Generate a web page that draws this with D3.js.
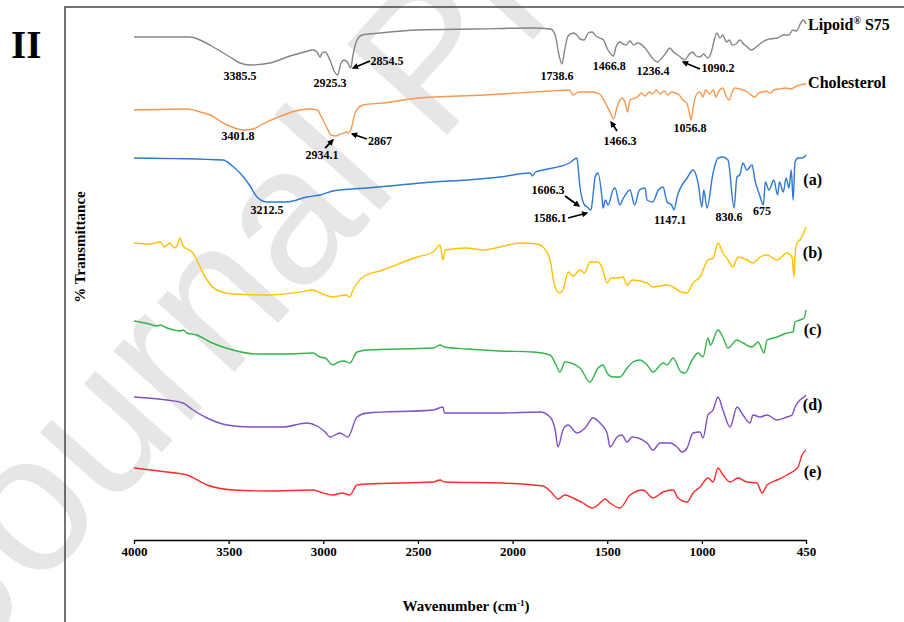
<!DOCTYPE html>
<html>
<head>
<meta charset="utf-8">
<script src="https://cdn.jsdelivr.net/npm/d3@7"></script>
<style>
  body { margin: 0; background: #fff; }
  svg { display: block; }
</style>
</head>
<body>
<svg class="ftirSVG" width="904" height="622"></svg>
<script>
// x axis ticks (wavenumber, cm-1)
const xTicks = [4000, 3500, 3000, 2500, 2000, 1500, 1000, 450];

// spectra: [wavenumber, stacked transmittance]
const lipoidS75 = [
  [4000,100.6],[3704,100.6],[3651,100],[3572,98.4],[3493,96.6],[3440,95.4],[3387,95],[3282,95.4],
  [3176,96.8],[3100,97.6],[3054,98],[3033,97.6],[3017,96.6],[3007,97.4],[2990,97.6],[2965,96],
  [2940,93.6],[2925,93],[2906,95.4],[2890,96],[2870,95.4],[2855,94.4],[2843,97],[2822,100],
  [2795,101],[2700,101.4],[2500,102],[2200,102.2],[1900,102.4],[1800,102.2],[1775,101],[1755,97],
  [1739,95.2],[1725,98],[1707,100.8],[1680,101.4],[1660,101],[1644,100.2],[1623,100],[1600,101.4],
  [1580,101.6],[1560,100.8],[1540,100.4],[1520,100],[1496,98],[1467,96.8],[1454,98.6],[1433,99.6],
  [1415,99.2],[1400,99],[1380,99.8],[1360,99],[1340,99.4],[1300,98.4],[1270,96.8],[1236,95.6],
  [1211,96.4],[1190,97.4],[1170,98.4],[1150,97.6],[1120,96.8],[1100,96.2],[1090,96],[1070,97],
  [1050,97.6],[1030,96.8],[1010,96.6],[990,97.2],[970,96.4],[950,97.6],[935,100],[920,101.4],
  [905,100.4],[890,101],[870,99.6],[855,100],[840,99],[820,99.2],[800,100],[780,99.2],
  [760,98.6],[740,98],[720,98.4],[700,99],[680,99.6],[660,100],[640,100.2],[600,100.4],
  [570,101],[540,101],[520,102],[500,101.8],[490,102.4],[475,103.6],[465,104],[450,103.2]
];

const cholesterol = [
  [4000,86],[3720,86.2],[3650,85.6],[3598,85],[3509,83],[3420,82],[3370,82.2],[3330,83],
  [3250,84.4],[3123,86],[3070,86.2],[3033,86],[3007,84.4],[2980,82.4],[2960,81],[2934,80.8],
  [2910,81.2],[2890,81.4],[2880,81.6],[2867,81.4],[2855,82],[2830,85.6],[2790,87],[2685,87.4],
  [2500,88.4],[2150,89],[1800,89.8],[1700,90],[1681,89],[1650,89.6],[1580,89.6],[1540,89.2],
  [1510,87.4],[1480,85.2],[1466,84.2],[1448,86.6],[1422,88.4],[1405,87.4],[1392,85.6],[1380,88],
  [1340,88.6],[1320,89.4],[1300,88.8],[1280,89.6],[1260,89.2],[1240,90],[1220,89.2],[1200,89.8],
  [1180,89],[1160,89.6],[1140,89.4],[1120,89],[1100,88],[1080,87.4],[1067,85.6],[1057,84],
  [1045,86.8],[1030,89],[1010,89.6],[995,88.6],[980,90],[960,89.2],[940,90],[925,88.6],
  [910,89.8],[890,90.4],[870,88.6],[855,88],[840,89.6],[825,90.4],[800,90.2],[780,90],
  [760,89.6],[740,89],[720,88.6],[700,89.4],[680,89.6],[660,89.8],[640,89.4],[620,90],
  [590,90.2],[560,90.4],[530,90.2],[500,90.8],[480,91],[460,91.2],[450,91.2]
];

const sampleA = [
  [4000,76.4],[3530,76],[3480,74.8],[3440,73.4],[3390,71],[3350,68.6],[3297,67.6],[3192,67.6],
  [3086,68.6],[3017,69],[2949,69.8],[2769,70.4],[2595,71],[2420,71.6],[2241,72],[2066,72.6],
  [1908,73.4],[1895,72.8],[1880,73.6],[1839,74],[1700,75.4],[1660,76.4],[1654,74.6],[1644,70.6],
  [1620,67],[1606,66.6],[1586,66],[1575,69],[1564,72.6],[1549,73.4],[1528,68.6],[1522,66.4],
  [1510,68],[1495,67],[1470,70],[1459,70.4],[1433,67],[1420,68],[1380,70],[1355,67],
  [1330,70],[1300,70.4],[1290,68],[1260,67.6],[1230,70],[1205,70.6],[1184,67.6],[1160,67],
  [1147,66],[1131,68.6],[1078,72.4],[1047,74],[1020,71.4],[1000,66.6],[990,70],[973,66.4],
  [941,73.4],[915,76.4],[890,76.6],[862,76],[830,66.4],[815,72.6],[800,73],[783,75.4],
  [762,74],[735,75],[720,72],[695,69],[675,67],[665,71.6],[645,70],[620,72],
  [600,69],[590,71.6],[570,69.6],[555,72.4],[540,70.4],[528,74],[518,68],[508,75.6],
  [490,76.4],[471,76.4],[450,77]
];

const sampleB = [
  [4000,59.4],[3915,59.2],[3860,59.6],[3840,58.6],[3810,59.4],[3790,58.4],[3773,58.8],[3757,60.4],
  [3741,58.8],[3720,58.2],[3688,57.4],[3651,54.6],[3614,52],[3562,50],[3477,49.2],[3297,49],
  [3123,49.6],[3054,50],[3017,49.4],[2949,48.6],[2920,48.8],[2880,49],[2860,48.6],[2843,50],
  [2790,52.6],[2685,54],[2505,56.6],[2420,57.6],[2383,59],[2368,56],[2355,58],[2241,58.4],
  [2156,58],[2066,58.6],[1961,59.4],[1871,59.2],[1839,58.6],[1802,56],[1776,50.6],[1750,49.4],
  [1730,50.4],[1707,53.6],[1680,52.8],[1644,54],[1620,53.4],[1591,55.6],[1554,55.6],[1528,54.6],
  [1501,51.4],[1480,52.4],[1448,52.4],[1417,52.6],[1395,51],[1369,52],[1290,51.4],[1258,50.6],
  [1184,51],[1152,50.6],[1110,49.6],[1078,49.4],[1047,51.4],[1010,52.6],[968,56],[940,56.4],
  [915,59.4],[889,57.4],[862,56],[836,54.6],[809,56.6],[762,56],[730,55.4],[693,56.6],
  [656,57],[603,56],[550,57.4],[524,56.6],[513,52.6],[508,57],[497,59.4],[482,60],
  [460,61.6],[450,62.6]
];

const sampleC = [
  [4000,43.8],[3920,43.2],[3880,42.8],[3860,43],[3826,42.4],[3790,42],[3757,41.8],[3740,42],
  [3720,41.4],[3667,41],[3598,39.6],[3477,38],[3350,37.2],[3192,37.2],[3054,37.4],[3017,36.6],
  [2990,36.4],[2949,35],[2920,35.6],[2890,35.8],[2860,35.4],[2822,37.6],[2769,38],[2420,38.4],
  [2383,39],[2360,38.6],[2241,38.2],[2066,37.8],[1892,37.6],[1802,37],[1770,35],[1750,33.6],
  [1723,35.6],[1644,34.4],[1591,31.6],[1549,34.4],[1522,35],[1501,33.4],[1469,32.6],[1433,32.6],
  [1395,34.4],[1364,35.6],[1327,36],[1290,35],[1258,33.6],[1205,35.4],[1184,35],[1152,36.4],
  [1110,33.6],[1089,33.4],[1052,36],[1020,37.4],[994,36.6],[968,40.4],[955,39],[915,42],
  [889,40.6],[862,38.4],[815,40],[783,39.4],[735,38.6],[703,39.6],[672,37.4],[656,40],
  [603,40.6],[550,41.4],[518,41.6],[508,43.6],[482,44],[460,44.4],[450,46]
];

const sampleD = [
  [4000,28.6],[3826,28],[3741,27.4],[3688,26],[3614,24.4],[3509,23],[3387,22.6],[3213,22.6],
  [3086,23.4],[3033,22.8],[2990,21.6],[2965,20.6],[2912,21.4],[2870,20.6],[2822,24.6],[2769,25.4],
  [2420,26],[2368,26.6],[2360,25.4],[2066,25.4],[1855,25.6],[1802,24.6],[1775,22],[1760,18.6],
  [1734,22],[1707,23],[1660,21.4],[1617,22.4],[1575,24.4],[1538,23.4],[1501,21.4],[1485,18.6],
  [1448,20.6],[1422,21],[1395,19.6],[1369,20.6],[1290,19.4],[1258,18],[1221,19.4],[1168,19.4],
  [1131,18.6],[1105,17.6],[1078,18.4],[1047,21.4],[1010,21.6],[994,20.4],[968,25],[941,26],
  [915,28.6],[889,26],[851,22.6],[814,26.6],[783,25],[746,23.4],[730,25],[693,24.6],
  [656,25],[603,24],[550,24.6],[524,25],[508,26.6],[482,28],[460,28.6],[450,29]
];

const sampleE = [
  [4000,14.4],[3826,13.6],[3720,13],[3614,11],[3477,10],[3297,9.8],[3054,10],[3017,9.6],
  [2949,9],[2900,9.4],[2860,9],[2822,11],[2769,11.2],[2420,11.6],[2383,12],[2360,11.6],
  [2066,11.4],[1839,10.8],[1792,9.4],[1760,8.2],[1723,9],[1681,8.4],[1628,7.4],[1580,6.4],
  [1538,7.4],[1512,8.2],[1485,7.4],[1433,6.4],[1380,9],[1311,10],[1258,8.4],[1205,9.6],
  [1152,10],[1126,8.4],[1078,7.6],[1047,9.4],[1010,10.6],[968,12.4],[941,11.6],[915,14.4],
  [889,13],[851,11.6],[809,12.4],[762,11.6],[709,11.4],[682,9.4],[656,11],[603,12],
  [550,13],[508,14],[492,14.6],[471,17],[450,18]
];

const spectra = [lipoidS75, cholesterol, sampleA, sampleB, sampleC, sampleD, sampleE];
const spectraColors = ['#858585', '#f7984e', '#2e78d6', '#ffc000', '#33b34a', '#7f4fc3', '#ff2a2a'];

// series names shown at the right end
const seriesLabels = [
  { text: 'Lipoid', sup: '®', rest: ' S75', wn: 439, t: 102 },
  { text: 'Cholesterol', wn: 439, t: 90.4 },
  { text: '(a)', wn: 415, t: 71, mid: true },
  { text: '(b)', wn: 415, t: 56.4, mid: true },
  { text: '(c)', wn: 415, t: 41, mid: true },
  { text: '(d)', wn: 415, t: 26, mid: true },
  { text: '(e)', wn: 415, t: 12.6, mid: true }
];

// peak annotations
const peakLabels = [
  { text: '3385.5', wn: 3440, t: 92 },
  { text: '2925.3', wn: 2965, t: 90.6 },
  { text: '2854.5', wn: 2663, t: 95 },
  { text: '1738.6', wn: 1765, t: 92 },
  { text: '1466.8', wn: 1490, t: 94 },
  { text: '1236.4', wn: 1258, t: 93 },
  { text: '1090.2', wn: 915, t: 93.6 },
  { text: '3401.8', wn: 3450, t: 80 },
  { text: '2867', wn: 2700, t: 79 },
  { text: '2934.1', wn: 3007, t: 76.2 },
  { text: '1466.3', wn: 1433, t: 79 },
  { text: '1056.8', wn: 1063, t: 81.6 },
  { text: '3212.5', wn: 3297, t: 65.2 },
  { text: '1606.3', wn: 1813, t: 69.2 },
  { text: '1586.1', wn: 1802, t: 63.6 },
  { text: '1147.1', wn: 1168, t: 63.2 },
  { text: '830.6', wn: 857, t: 63.8 },
  { text: '675', wn: 682, t: 65 }
];

// arrows: [from, to] in [wavenumber, transmittance]
const peakArrows = [
  [[2753,95.8],[2843,94.4]],
  [[1010,94.2],[1100,95.6]],
  [[2769,80.2],[2848,81.2]],
  [[2990,78.4],[2949,80]],
  [[1448,81.8],[1480,83.6]],
  [[1723,68.8],[1649,66.8]],
  [[1707,64.4],[1607,65.4]]
];

const svg = d3.select('svg.ftirSVG');
const serif = "'Liberation Serif', 'Times New Roman', serif";

const x = d3.scaleLinear().domain([4000, 450]).range([134, 806]);
const y = d3.scaleLinear().domain([0, 107]).range([540, 5]);

// watermark behind everything
svg.append('text')
  .attr('class', 'watermark')
  .attr('transform', 'translate(-30, 665) rotate(-48)')
  .text('Journal Pre-proof')
  .style('font-family', "'Liberation Sans', Arial, sans-serif")
  .style('font-size', '196px')
  .style('fill', '#e6e6e6');

// frame (left and top edges visible)
svg.append('path')
  .attr('d', 'M65,622V7H904')
  .style('fill', 'none')
  .style('stroke', '#444')
  .style('stroke-width', 1.5);

svg.append('text')
  .text('II')
  .attr('x', 11)
  .attr('y', 58)
  .style('font-family', serif)
  .style('font-weight', 700)
  .style('font-size', '39px');

const line = d3.line()
  .x(d => x(d[0]))
  .y(d => y(d[1]))
  .curve(d3.curveMonotoneX);

svg.append('g').attr('class', 'spectraGrp')
  .selectAll('path')
  .data(spectra)
  .enter()
  .append('path')
  .attr('d', d => line(d))
  .style('fill', 'none')
  .style('stroke', (d, i) => spectraColors[i])
  .style('stroke-width', 1.4)
  .style('stroke-linejoin', 'round');

// x axis
const xAxis = svg.append('g')
  .attr('class', 'xAxis')
  .attr('transform', 'translate(0, 540)')
  .call(d3.axisBottom(x).tickValues(xTicks).tickSize(4).tickSizeOuter(0).tickFormat(d3.format('d')));

xAxis.select('.domain').style('stroke', '#000').style('stroke-width', 1.6);
xAxis.selectAll('.tick line').style('stroke', '#000').style('stroke-width', 1.3);
xAxis.selectAll('.tick text')
  .style('font-family', serif)
  .style('font-weight', 700)
  .style('font-size', '13px')
  .style('fill', '#000');

const xTitle = svg.append('text')
  .attr('x', 466)
  .attr('y', 611)
  .style('text-anchor', 'middle')
  .style('font-family', serif)
  .style('font-weight', 700)
  .style('font-size', '15px');
xTitle.append('tspan').text('Wavenumber (cm');
xTitle.append('tspan').text('-1').attr('dy', -5).style('font-size', '9px');
xTitle.append('tspan').text(')').attr('dy', 5);

svg.append('text')
  .text('% Transmittance')
  .attr('transform', 'translate(85, 247) rotate(-90)')
  .style('text-anchor', 'middle')
  .style('font-family', serif)
  .style('font-weight', 700)
  .style('font-size', '15px');

// series labels
seriesLabels.forEach(s => {
  const t = svg.append('text')
    .attr('x', x(s.wn))
    .attr('y', y(s.t))
    .style('text-anchor', s.mid ? 'middle' : 'start')
    .style('font-family', serif)
    .style('font-weight', 700)
    .style('font-size', '16px');
  t.append('tspan').text(s.text);
  if (s.sup) {
    t.append('tspan').text(s.sup).attr('dy', -6).style('font-size', '10px');
    t.append('tspan').text(s.rest).attr('dy', 6);
  }
});

// peak labels
svg.append('g').attr('class', 'peakGrp')
  .selectAll('text')
  .data(peakLabels)
  .enter()
  .append('text')
  .attr('x', d => x(d.wn))
  .attr('y', d => y(d.t))
  .text(d => d.text)
  .style('text-anchor', 'middle')
  .style('font-family', serif)
  .style('font-weight', 700)
  .style('font-size', '12px');

svg.append('defs').append('marker')
  .attr('id', 'arrowHead')
  .attr('viewBox', '0 0 10 10')
  .attr('refX', 8)
  .attr('refY', 5)
  .attr('markerWidth', 3.5)
  .attr('markerHeight', 3.5)
  .attr('orient', 'auto')
  .append('path')
  .attr('d', 'M0,0L10,5L0,10z')
  .style('fill', '#000');

svg.append('g').attr('class', 'arrowGrp')
  .selectAll('line')
  .data(peakArrows)
  .enter()
  .append('line')
  .attr('x1', d => x(d[0][0]))
  .attr('y1', d => y(d[0][1]))
  .attr('x2', d => x(d[1][0]))
  .attr('y2', d => y(d[1][1]))
  .attr('marker-end', 'url(#arrowHead)')
  .style('stroke', '#000')
  .style('stroke-width', 1.8);
</script>
</body>
</html>
